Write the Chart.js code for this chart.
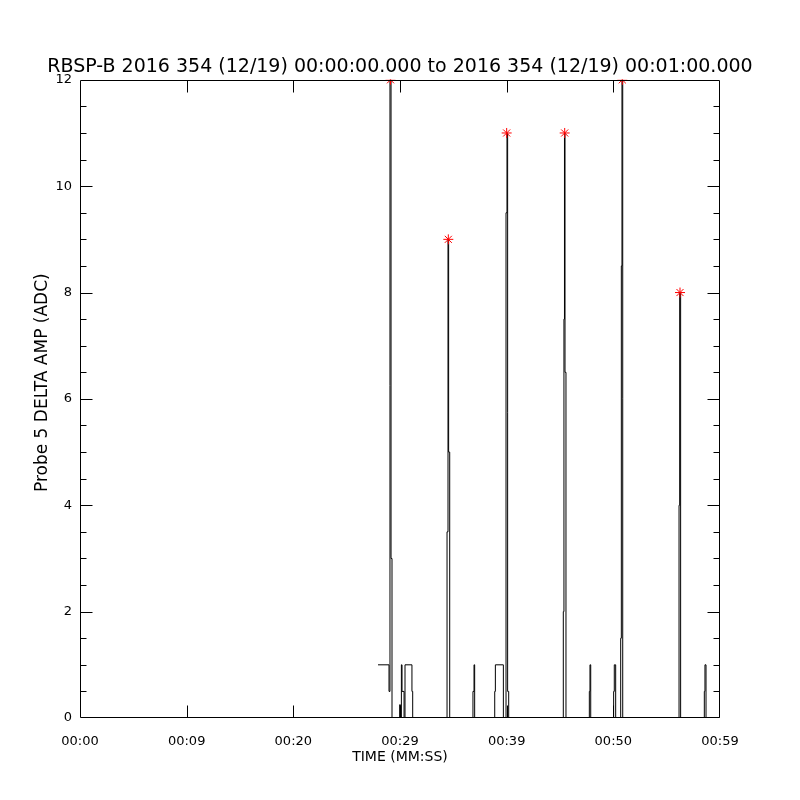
<!DOCTYPE html>
<html>
<head>
<meta charset="utf-8">
<script src="https://cdn.jsdelivr.net/npm/chart.js@4"></script>
<style>
  html, body { margin: 0; padding: 0; background: #fff; }
  #wrap { width: 800px; height: 800px; }
</style>
</head>
<body>
<div id="wrap"><canvas id="myChart" width="800" height="800"></canvas></div>
<script>
'use strict';

// seconds after 00:00:00 and ADC values (held until the next sample)
let sampleTimes = [27.94, 28.97, 29.06, 29.16, 29.25, 29.97, 30.03, 30.13, 30.19, 30.38,
  30.47, 31.12, 31.19, 34.41, 34.5, 34.56, 34.66, 36.84, 36.94, 37.0,
  38.88, 38.94, 39.69, 39.94, 40.03, 40.09, 40.19, 45.31, 45.37, 45.42,
  45.47, 45.56, 47.75, 47.81, 47.88, 50.03, 50.09, 50.22, 50.69, 50.75,
  50.81, 50.88, 56.16, 56.22, 56.31, 58.53, 58.59, 58.69, 60.0];
let sampleValues = [1, 0.5, 12, 3, 0, 0.25, 0, 1, 0.5, 0,
  1, 0.5, 0, 3.5, 9, 5, 0, 0.5, 1, 0,
  0.5, 1, 0, 9.5, 11, 0.5, 0, 2, 7.5, 11,
  6.5, 0, 0.5, 1, 0, 0.5, 1, 0, 1.5, 8.5,
  12, 0, 4, 8, 0, 0.5, 1, 0, 0];

// red asterisks on the peaks
let peakTimes = [29.11, 34.53, 40.0, 45.44, 50.84, 56.25];
let peakValues = [12, 9, 11, 11, 12, 8];

let xTickValues = [0, 10, 20, 30, 40, 50, 60];
let xTickLabels = ['00:00', '00:09', '00:20', '00:29', '00:39', '00:50', '00:59'];
let yTickValues = [0, 2, 4, 6, 8, 10, 12];
let yMinorStep = 0.5;

let titleText = 'RBSP-B 2016 354 (12/19) 00:00:00.000 to 2016 354 (12/19) 00:01:00.000';

function toPoints(xs, ys) {
  let pts = [];
  for (let i = 0; i < xs.length; i++) {
    pts.push({x: xs[i], y: ys[i]});
  }
  return pts;
}

// box round the plot plus inward tick marks on all four sides
const frameTicks = {
  id: 'frameTicks',
  afterDatasetsDraw(chart) {
    const ctx = chart.ctx;
    const a = chart.chartArea;
    const xs = chart.scales.x;
    const ys = chart.scales.y;
    const l = Math.round(a.left) + 0.5;
    const r = Math.round(a.right) - 0.5;
    const t = Math.round(a.top) + 0.5;
    const b = Math.round(a.bottom) - 0.5;
    ctx.save();
    ctx.strokeStyle = '#000';
    ctx.lineWidth = 1;
    ctx.beginPath();
    ctx.rect(l, t, r - l, b - t);
    for (let v of xTickValues) {
      if (v <= xs.min || v >= xs.max) continue;
      let px = Math.round(xs.getPixelForValue(v)) + 0.5;
      ctx.moveTo(px, b); ctx.lineTo(px, b - 12);
      ctx.moveTo(px, t); ctx.lineTo(px, t + 12);
    }
    for (let v = ys.min + yMinorStep; v < ys.max - 1e-9; v += yMinorStep) {
      let len = yTickValues.includes(v) ? 12 : 6;
      let py = Math.round(ys.getPixelForValue(v)) + 0.5;
      ctx.moveTo(l, py); ctx.lineTo(l + len, py);
      ctx.moveTo(r, py); ctx.lineTo(r - len, py);
    }
    ctx.stroke();
    ctx.restore();
  }
};

const data = {
  datasets: [{
    label: 'Probe 5 delta amp',
    data: toPoints(sampleTimes, sampleValues),
    borderColor: '#000',
    borderWidth: 1,
    stepped: true,
    pointRadius: 0,
    fill: false,
    order: 2
  }, {
    label: 'Peaks',
    data: toPoints(peakTimes, peakValues),
    showLine: false,
    pointStyle: 'star',
    pointRadius: 5,
    borderColor: '#ff0000',
    backgroundColor: '#ff0000',
    borderWidth: 1,
    order: 1
  }]
};

const config = {
  type: 'line',
  data: data,
  plugins: [frameTicks],
  options: {
    responsive: false,
    animation: false,
    layout: { padding: 0 },
    plugins: {
      legend: { display: false },
      tooltip: { enabled: false },
      title: {
        display: true,
        text: titleText,
        color: '#000',
        font: { family: 'DejaVu Sans', size: 19, weight: 'normal' },
        padding: { top: 56, bottom: 1 }
      }
    },
    scales: {
      x: {
        type: 'linear',
        min: 0,
        max: 60,
        afterBuildTicks: (scale) => {
          scale.ticks = xTickValues.map(v => ({value: v}));
        },
        afterFit: (scale) => { scale.height = 82; },
        grid: { display: false, drawTicks: false },
        border: { display: false },
        ticks: {
          color: '#000',
          padding: 16,
          maxRotation: 0,
          autoSkip: false,
          font: { family: 'DejaVu Sans', size: 13 },
          callback: (value, index) => xTickLabels[index]
        },
        title: {
          display: true,
          text: 'TIME (MM:SS)',
          color: '#000',
          font: { family: 'DejaVu Sans', size: 14 },
          padding: { top: 0, bottom: 34 }
        }
      },
      y: {
        min: 0,
        max: 12,
        afterBuildTicks: (scale) => {
          scale.ticks = yTickValues.map(v => ({value: v}));
        },
        afterFit: (scale) => { scale.width = 80; },
        grid: { display: false, drawTicks: false },
        border: { display: false },
        ticks: {
          color: '#000',
          padding: 8,
          font: { family: 'DejaVu Sans', size: 13 }
        },
        title: {
          display: true,
          // leading spaces nudge the label a little above centre, as in the original
          text: '      Probe 5 DELTA AMP (ADC)',
          color: '#000',
          font: { family: 'DejaVu Sans', size: 17 },
          padding: { top: 32, bottom: 0 }
        }
      },
      // empty right-hand axis, only there to keep the plot box centred
      yRight: {
        position: 'right',
        min: 0,
        max: 12,
        afterFit: (scale) => { scale.width = 80; },
        grid: { display: false, drawTicks: false },
        border: { display: false },
        ticks: { display: false }
      }
    }
  }
};

const myChart = new Chart(document.getElementById('myChart'), config);
</script>
</body>
</html>
